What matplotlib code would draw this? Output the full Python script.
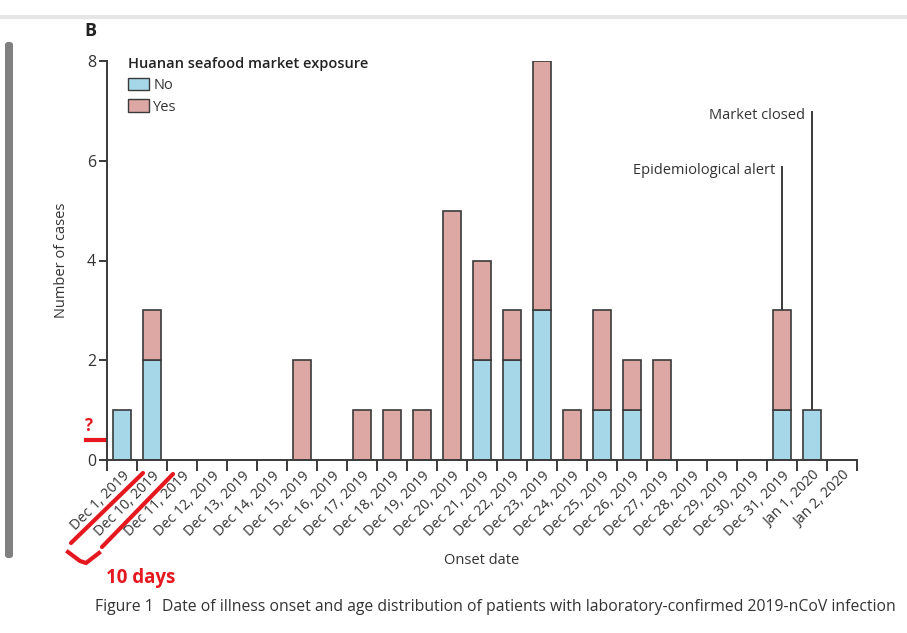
import numpy as np
import matplotlib
matplotlib.use('Agg')
import matplotlib.pyplot as plt
from matplotlib.patches import Patch, FancyBboxPatch

plt.rcParams['font.family'] = ['Open Sans', 'DejaVu Sans']

# Datos
fechas = ['Dec 1, 2019', 'Dec 10, 2019', 'Dec 11, 2019', 'Dec 12, 2019', 'Dec 13, 2019',
          'Dec 14, 2019', 'Dec 15, 2019', 'Dec 16, 2019', 'Dec 17, 2019', 'Dec 18, 2019',
          'Dec 19, 2019', 'Dec 20, 2019', 'Dec 21, 2019', 'Dec 22, 2019', 'Dec 23, 2019',
          'Dec 24, 2019', 'Dec 25, 2019', 'Dec 26, 2019', 'Dec 27, 2019', 'Dec 28, 2019',
          'Dec 29, 2019', 'Dec 30, 2019', 'Dec 31, 2019', 'Jan 1, 2020', 'Jan 2, 2020']
casos_no = [1, 2, 0, 0, 0, 0, 0, 0, 0, 0, 0, 0, 2, 2, 3, 0, 1, 1, 0, 0, 0, 0, 1, 1, 0]
casos_si = [0, 1, 0, 0, 0, 0, 2, 0, 1, 1, 1, 5, 2, 1, 5, 1, 2, 1, 2, 0, 0, 0, 2, 0, 0]
eventos = ['Epidemiological alert', 'Market closed']
eventos_fecha = ['Dec 31, 2019', 'Jan 1, 2020']
eventos_altura = [5.9, 7.0]
y_ticks = [0, 2, 4, 6, 8]

color_no = '#a6d7e8'
color_si = '#dda7a4'
borde = '#3a3a3a'
rojo = '#e5171f'
texto = '#333333'

W, H = 907, 633
fig = plt.figure(figsize=(W / 100, H / 100), dpi=100)

# Capa de fondo en pixeles para adornos de la captura
bg = fig.add_axes([0, 0, 1, 1])
bg.set_xlim(0, W)
bg.set_ylim(H, 0)
bg.axis('off')
bg.plot([0, W], [17, 17], color='#e6e6e6', lw=3)
bg.add_patch(FancyBboxPatch((5, 42), 8, 516, boxstyle='round,pad=0,rounding_size=3',
                            facecolor='#808080', edgecolor='none'))

ax = fig.add_axes([107 / W, 1 - 460 / H, 750 / W, 399 / H])
x = np.arange(len(fechas)) + 0.5
no = np.array(casos_no)
si = np.array(casos_si)

m = no > 0
ax.bar(x[m], no[m], width=0.6, color=color_no, edgecolor=borde, linewidth=1.2)
m = si > 0
ax.bar(x[m], si[m], bottom=no[m], width=0.6, color=color_si, edgecolor=borde, linewidth=1.2)

# Lineas de eventos
for nombre, fecha, alto in zip(eventos, eventos_fecha, eventos_altura):
    i = fechas.index(fecha)
    ax.vlines(x[i], no[i] + si[i], alto, color=borde, linewidth=1.4)
    ax.text(x[i] - 0.22, alto - 0.09, nombre, ha='right', va='center', fontsize=10.5, color=texto)

ax.set_xlim(0, len(fechas))
ax.set_ylim(0, 8)
ax.set_xticks(np.arange(len(fechas) + 1))
ax.set_xticklabels([])
ax.set_xticks(x, minor=True)
ax.set_xticklabels(fechas, minor=True, rotation=45, ha='right', va='top',
                   rotation_mode='anchor', fontsize=10.3, color=texto)
ax.tick_params(axis='x', which='major', length=8, width=1.4, color=borde)
ax.tick_params(axis='x', which='minor', length=0, pad=6)
ax.set_yticks(y_ticks)
ax.set_yticklabels([str(v) for v in y_ticks], fontsize=11.5, color=texto)
ax.tick_params(axis='y', length=6, width=1.4, color=borde, pad=2)
for s in ['top', 'right']:
    ax.spines[s].set_visible(False)
for s in ['left', 'bottom']:
    ax.spines[s].set_color(borde)
    ax.spines[s].set_linewidth(1.4)

ax.set_ylabel('Number of cases', fontsize=10.5, color=texto, labelpad=13)
ax.set_xlabel('Onset date', fontsize=10.5, color=texto, labelpad=10)

leyenda = ax.legend(handles=[Patch(facecolor=color_no, edgecolor=borde, label='No'),
                             Patch(facecolor=color_si, edgecolor=borde, label='Yes')],
                    title='Huanan seafood market exposure', loc='upper left',
                    bbox_to_anchor=(0.015, 1.035), frameon=False, alignment='left',
                    fontsize=10.5, handlelength=1.4, handleheight=0.9, handletextpad=0.3,
                    labelspacing=0.45, borderpad=0.2)
leyenda.get_title().set_fontweight('semibold')
leyenda.get_title().set_fontsize(10.5)
leyenda.get_title().set_color('#222222')
for t in leyenda.get_texts():
    t.set_color(texto)

bg.text(84, 31, 'B', fontsize=13, fontweight='bold', color='#222222', va='center')
bg.text(95, 607, 'Figure 1  Date of illness onset and age distribution of patients with laboratory-confirmed 2019-nCoV infection',
        fontsize=11.35, color='#333333', va='center')

# Anotaciones rojas a mano
bg.plot([172, 176, 183, 189, 176, 161], [121, 127, 165, 206, 255, 307], color=rojo, lw=3,
        solid_capstyle='round', solid_joinstyle='round')
bg.plot([86, 116], [440, 440], color=rojo, lw=3)
bg.text(85, 426, '?', fontsize=12, fontweight='bold', color=rojo, va='center')
bg.plot([71, 143], [543, 473], color=rojo, lw=3, solid_capstyle='round')
bg.plot([102, 173], [547, 474], color=rojo, lw=3, solid_capstyle='round')
bg.plot([68, 80, 86, 99], [552, 561, 563, 553], color=rojo, lw=3, solid_joinstyle='round')
bg.text(106, 578, '10 days', fontsize=13.5, fontweight='bold', color=rojo, va='center')

fig.savefig('out.png', dpi=100)
